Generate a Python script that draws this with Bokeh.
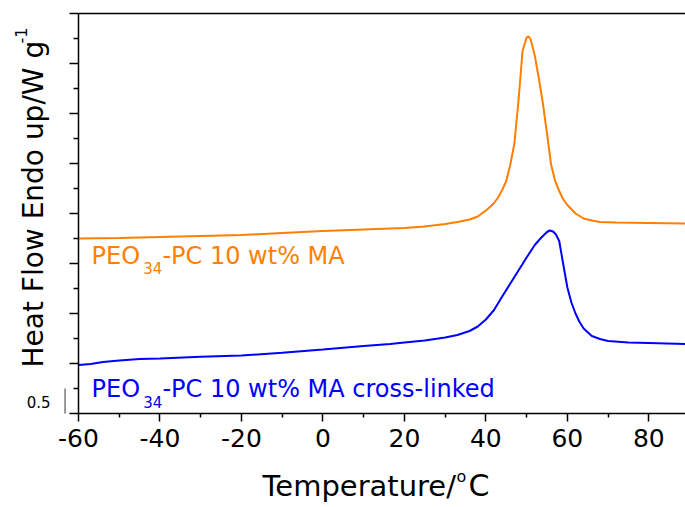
import math
from bokeh.plotting import figure
from bokeh.models import Range1d, FixedTicker, LinearAxis, Label, Arrow
from bokeh.embed import file_html
from bokeh.resources import INLINE

# ---- data ----
orange_x = [-60, -50, -40, -30, -20, -10, 0, 10, 20, 25, 30, 33, 36, 38, 40, 41, 42, 43, 44, 45,
            46, 47, 48, 49, 50, 50.5, 51, 52, 53, 54, 55, 56, 57, 58, 59, 60, 62, 64, 66, 68,
            72, 80, 89]
orange_y = [3.50, 3.51, 3.53, 3.55, 3.57, 3.61, 3.65, 3.68, 3.71, 3.74, 3.79, 3.83, 3.88, 3.94,
            4.06, 4.13, 4.21, 4.32, 4.47, 4.65, 4.98, 5.40, 6.25, 7.25, 7.52, 7.54, 7.48, 7.16,
            6.70, 6.20, 5.60, 4.98, 4.65, 4.45, 4.28, 4.17, 4.00, 3.90, 3.86, 3.83, 3.82, 3.81,
            3.80]

blue_x = [-60, -57, -54, -50, -45, -40, -30, -20, -10, 0, 10, 16.5, 20, 25, 30, 33, 36, 38, 40,
          42, 44, 46, 48, 50, 52, 53.5, 55, 55.7, 56.5, 57.2, 58, 59, 60, 61, 62, 63, 64, 66,
          68, 70, 75, 80, 89]
blue_y = [0.97, 0.99, 1.03, 1.06, 1.09, 1.10, 1.135, 1.16, 1.215, 1.28, 1.35, 1.39, 1.42, 1.46,
          1.52, 1.57, 1.65, 1.74, 1.88, 2.07, 2.34, 2.60, 2.86, 3.12, 3.37, 3.51, 3.63, 3.66,
          3.64, 3.58, 3.45, 2.98, 2.52, 2.22, 2.00, 1.83, 1.70, 1.55, 1.49, 1.45, 1.42, 1.41,
          1.39]

x_major = [-60, -40, -20, 0, 20, 40, 60, 80]
x_minor = [-50, -30, -10, 10, 30, 50, 70, 90]
x_labels = ["-60", "-40", "-20", "0", "20", "40", "60", "80"]
y_major = [0, 1, 2, 3, 4, 5, 6, 7, 8]
y_minor = [0.5, 1.5, 2.5, 3.5, 4.5, 5.5, 6.5, 7.5]
scale_bar = [0, 0.5]
scale_text = "0.5"

X0, X1 = -60, 89
Y0, Y1 = 0, 8

ORANGE = "#FF7F00"
BLUE = "#0000FF"
FONT = "DejaVu Sans"

# frame covers the whole canvas; axes are pinned at data positions
PX_X = 607 / (X1 - X0)   # pixels per degree
PX_Y = 400 / (Y1 - Y0)   # pixels per W/g
p = figure(width=685, height=507,
           x_range=Range1d(X0 - 78 / PX_X, X1), y_range=Range1d(Y0 - 94 / PX_Y, Y1 + 13 / PX_Y),
           output_backend="svg", toolbar_location=None,
           min_border_left=0, min_border_right=0, min_border_top=0, min_border_bottom=0)
p.outline_line_color = None
p.xgrid.visible = False
p.ygrid.visible = False
p.background_fill_color = "white"
p.border_fill_color = "white"

# x axis
xa = p.xaxis[0]
xa.fixed_location = Y0
xa.bounds = (X0, X1)
xa.ticker = FixedTicker(ticks=x_major, minor_ticks=x_minor)
xa.major_label_overrides = dict(zip(x_major, x_labels))
xa.axis_line_width = 1.5
xa.major_tick_line_width = 1.5
xa.minor_tick_line_width = 1.5
xa.major_tick_out = 8
xa.major_tick_in = 0
xa.minor_tick_out = 4
xa.minor_tick_in = 0
xa.major_label_text_font = FONT
xa.major_label_text_font_size = "25px"
xa.major_label_text_color = "black"
xa.major_label_standoff = 7

# y axis (no tick labels)
ya = p.yaxis[0]
ya.fixed_location = X0
ya.bounds = (Y0, Y1)
ya.ticker = FixedTicker(ticks=y_major, minor_ticks=y_minor)
ya.major_label_overrides = {t: "" for t in y_major}
ya.axis_line_width = 1.5
ya.major_tick_line_width = 1.5
ya.minor_tick_line_width = 1.5
ya.major_tick_out = 9
ya.major_tick_in = 0
ya.minor_tick_out = 5
ya.minor_tick_in = 0
ya.major_label_standoff = 0

# top line
top = LinearAxis(ticker=FixedTicker(ticks=[]), axis_line_width=1.5, fixed_location=Y1,
                 bounds=(X0, X1),
                 major_tick_out=0, major_tick_in=0, minor_tick_out=0, minor_tick_in=0,
                 major_label_standoff=0)
p.add_layout(top, "above")

# curves
p.line(orange_x, orange_y, line_color=ORANGE, line_width=2)
p.line(blue_x, blue_y, line_color=BLUE, line_width=2)

# curve labels
def curve_label(y_base, y_sub, rest, color):
    p.add_layout(Label(x=-56.8, y=y_base, text="PEO", text_font=FONT, text_font_size="24px",
                       text_color=color, text_baseline="alphabetic", text_align="left"))
    p.add_layout(Label(x=-44.1, y=y_sub, text="34", text_font=FONT, text_font_size="15px",
                       text_color=color, text_baseline="alphabetic", text_align="left"))
    p.add_layout(Label(x=-39.4, y=y_base, text=rest, text_font=FONT, text_font_size="24px",
                       text_color=color, text_baseline="alphabetic", text_align="left"))

curve_label(3.16, 2.92, "-PC 10 wt% MA", ORANGE)
curve_label(0.49, 0.23, "-PC 10 wt% MA cross-linked", BLUE)

# scale bar (0.5 W/g) left of the y axis
p.add_layout(Arrow(end=None, x_start=-63.3, y_start=scale_bar[0], x_end=-63.3,
                   y_end=scale_bar[1], line_color="#333333", line_width=1))
p.add_layout(Label(x=-72.7, y=0.23, text=scale_text, text_font=FONT, text_font_size="15px",
                   text_color="black", text_baseline="alphabetic", text_align="left"))

# y axis title (rotated)
p.add_layout(Label(x=33, y=367, x_units="canvas", y_units="canvas",
                   text="Heat Flow Endo up/W g", text_font=FONT,
                   text_font_size="28px", text_color="black", angle=math.pi / 2,
                   text_baseline="alphabetic", text_align="left"))
p.add_layout(Label(x=20, y=43, x_units="canvas", y_units="canvas", text="-1",
                   text_font=FONT, text_font_size="16px",
                   text_color="black", angle=math.pi / 2,
                   text_baseline="alphabetic", text_align="left"))

# x axis title
p.add_layout(Label(x=262, y=485, x_units="canvas", y_units="canvas", text="Temperature/",
                   text_font=FONT, text_font_size="29px", text_color="black",
                   text_baseline="alphabetic", text_align="left"))
p.add_layout(Label(x=456, y=476, x_units="canvas", y_units="canvas", text="o",
                   text_font=FONT, text_font_size="16px",
                   text_color="black", text_baseline="alphabetic", text_align="left"))
p.add_layout(Label(x=468, y=485, x_units="canvas", y_units="canvas", text="C",
                   text_font=FONT, text_font_size="30px",
                   text_color="black", text_baseline="alphabetic", text_align="left"))

open("out.html", "w").write(file_html(p, INLINE))
